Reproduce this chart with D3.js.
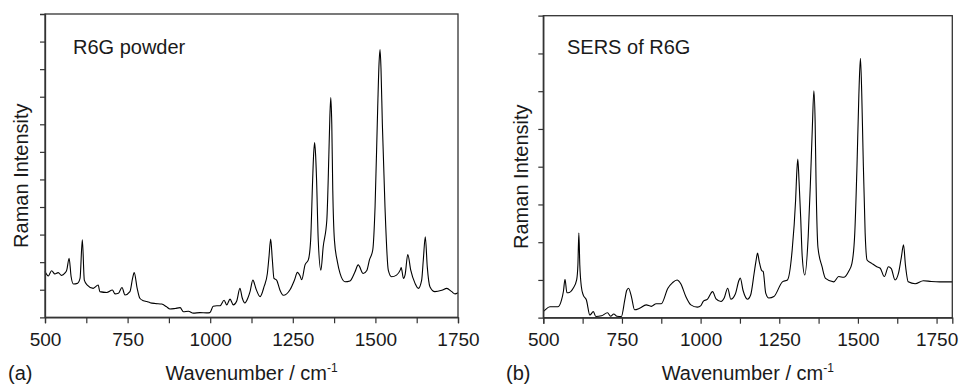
<!DOCTYPE html>
<html>
<head>
<meta charset="utf-8">
<script src="https://cdn.jsdelivr.net/npm/d3@7"></script>
<style>
  body { margin: 0; background: #fff; }
  svg { display: block; font-family: "Liberation Sans", Arial, sans-serif; }
</style>
</head>
<body>
<script>
// Data (intensity in y-tick units)
const powderWavenumber = [500, 510, 520, 530, 540, 550, 560, 566, 573, 579, 586, 598, 606, 613, 619, 628, 646, 661, 666, 687, 704, 712, 722, 733, 742, 757, 765, 770, 779, 787, 798, 808, 818, 833, 853, 868, 878, 894, 909, 919, 934, 949, 969, 989, 999, 1009, 1020, 1030, 1042, 1050, 1060, 1070, 1080, 1090, 1097, 1105, 1114, 1121, 1129, 1139, 1151, 1163, 1173, 1178, 1183, 1188, 1193, 1201, 1211, 1221, 1242, 1255, 1264, 1272, 1277, 1287, 1297, 1304, 1310, 1313, 1316, 1319, 1322, 1327, 1335, 1342, 1353, 1359, 1362, 1365, 1368, 1371, 1376, 1385, 1393, 1408, 1423, 1438, 1448, 1463, 1474, 1482, 1492, 1499, 1507, 1511, 1514, 1517, 1521, 1529, 1539, 1549, 1564, 1575, 1578, 1585, 1590, 1598, 1607, 1620, 1630, 1640, 1645, 1651, 1657, 1665, 1680, 1701, 1716, 1731, 1741, 1750];
const powderIntensity = [1.66, 1.5, 1.69, 1.57, 1.62, 1.52, 1.6, 1.72, 2.14, 1.48, 1.21, 1.23, 1.41, 2.81, 1.35, 1.17, 1.05, 1.17, 0.93, 0.9, 0.99, 0.85, 0.87, 1.08, 0.81, 0.93, 1.41, 1.62, 1.05, 0.69, 0.6, 0.57, 0.53, 0.5, 0.48, 0.38, 0.3, 0.32, 0.35, 0.2, 0.22, 0.15, 0.17, 0.16, 0.17, 0.4, 0.42, 0.42, 0.62, 0.45, 0.66, 0.45, 0.58, 1.05, 0.7, 0.52, 0.7, 0.95, 1.35, 1.02, 0.75, 1.11, 1.59, 2.2, 2.84, 2.1, 1.41, 1.35, 0.99, 0.8, 1.01, 1.35, 1.63, 1.5, 1.36, 1.9, 2.08, 2.8, 4.97, 5.9, 6.34, 5.9, 4.97, 2.8, 1.71, 2.56, 3.53, 5.82, 7.2, 7.97, 7.0, 4.61, 2.8, 2.01, 1.59, 1.29, 1.32, 1.64, 1.9, 1.59, 1.7, 2.08, 2.44, 4.01, 7.63, 9.2, 9.71, 9.0, 7.03, 4.01, 1.71, 1.47, 1.53, 1.71, 1.8, 1.41, 1.55, 2.28, 1.71, 1.23, 1.05, 1.35, 2.08, 2.92, 1.83, 1.11, 0.93, 0.98, 1.05, 0.93, 0.85, 0.89];

const sersWavenumber = [500, 505, 521, 547, 558, 564, 569, 575, 579, 595, 606, 610, 613, 616, 621, 627, 637, 648, 659, 667, 685, 704, 714, 724, 734, 748, 759, 765, 771, 780, 790, 806, 827, 843, 859, 875, 896, 911, 925, 937, 953, 969, 990, 1001, 1009, 1022, 1038, 1049, 1065, 1075, 1086, 1096, 1110, 1122, 1126, 1135, 1149, 1159, 1170, 1176, 1181, 1186, 1194, 1199, 1207, 1217, 1233, 1260, 1276, 1291, 1302, 1306, 1309, 1313, 1318, 1323, 1331, 1342, 1349, 1355, 1360, 1364, 1367, 1373, 1386, 1397, 1423, 1439, 1455, 1470, 1481, 1490, 1497, 1503, 1508, 1512, 1516, 1523, 1529, 1544, 1560, 1571, 1584, 1597, 1606, 1618, 1629, 1638, 1645, 1651, 1660, 1682, 1708, 1733, 1760, 1800];
const sersIntensity = [0.16, 0.2, 0.29, 0.29, 0.47, 0.7, 1.02, 0.66, 0.66, 0.78, 1.0, 1.4, 2.24, 1.4, 0.82, 0.6, 0.47, 0.07, 0.16, 0.03, 0.05, 0.13, 0.04, 0.1, 0.04, 0.03, 0.47, 0.72, 0.78, 0.56, 0.21, 0.25, 0.34, 0.3, 0.37, 0.37, 0.78, 0.93, 1.0, 0.9, 0.56, 0.34, 0.28, 0.32, 0.44, 0.49, 0.69, 0.5, 0.43, 0.52, 0.78, 0.49, 0.62, 0.99, 1.05, 0.72, 0.49, 0.6, 1.17, 1.5, 1.71, 1.5, 1.25, 1.22, 0.65, 0.52, 0.56, 0.95, 1.0, 1.79, 3.12, 3.9, 4.2, 3.6, 2.67, 1.62, 1.13, 2.15, 3.57, 5.0, 6.01, 5.2, 3.57, 1.86, 1.35, 1.04, 0.95, 1.09, 1.07, 1.22, 1.44, 2.24, 4.0, 5.9, 6.87, 6.0, 4.5, 2.24, 1.53, 1.44, 1.35, 1.31, 1.09, 1.35, 1.3, 1.0, 1.18, 1.6, 1.93, 1.4, 0.95, 0.9, 0.98, 0.96, 0.95, 0.95];

const xTickLabels = [500, 750, 1000, 1250, 1500, 1750];
const xMinorTicks = [625, 875, 1125, 1375, 1625];

const panels = [
  { letter: '(a)', note: 'R6G powder', wn: powderWavenumber, inten: powderIntensity,
    xDomain: [500, 1750], yMax: 11, left: 45, right: 458, top: 14, bottom: 317.3, noteX: 73, axisLabelX: 28, letterX: 8 },
  { letter: '(b)', note: 'SERS of R6G', wn: sersWavenumber, inten: sersIntensity,
    xDomain: [500, 1800], yMax: 8, left: 543.3, right: 952.3, top: 15.7, bottom: 317.7, noteX: 567, axisLabelX: 528, letterX: 506 }
];

const width = 961;
const height = 385;
const ink = '#1a1a1a';

const svg = d3.select('body')
  .append('svg')
  .attr('width', width)
  .attr('height', height);

panels.forEach(p => {
  const x = d3.scaleLinear().domain(p.xDomain).range([p.left, p.right]);
  const y = d3.scaleLinear().domain([0, p.yMax]).range([p.bottom, p.top]);
  const g = svg.append('g');

  // Spectrum
  const line = d3.line()
    .x(i => x(p.wn[i]))
    .y(i => y(p.inten[i]))
    .curve(d3.curveMonotoneX);
  g.append('path')
    .attr('d', line(d3.range(p.wn.length)))
    .attr('fill', 'none')
    .attr('stroke', '#000')
    .attr('stroke-width', 1.1);

  // Frame
  g.append('rect')
    .attr('x', p.left).attr('y', p.top)
    .attr('width', p.right - p.left).attr('height', p.bottom - p.top)
    .attr('fill', 'none').attr('stroke', '#333').attr('stroke-width', 1.3);

  // Bottom axis
  const xAxis = d3.axisBottom(x)
    .tickValues(xTickLabels.concat(xMinorTicks).filter(v => v <= p.xDomain[1]))
    .tickFormat(v => xTickLabels.includes(v) ? v : '')
    .tickSize(6)
    .tickPadding(9);
  const gx = g.append('g')
    .attr('transform', `translate(0,${p.bottom})`)
    .call(xAxis);
  gx.select('.domain').attr('stroke', '#333').attr('stroke-width', 1.3);
  gx.selectAll('.tick line').attr('stroke', '#333').attr('stroke-width', 1.2);
  gx.selectAll('.tick text')
    .attr('fill', ink)
    .style('font-size', '19px')
    .style('font-family', '"Liberation Sans", Arial, sans-serif');

  // Left axis (no labels)
  const yAxis = d3.axisLeft(y)
    .tickValues(d3.range(1, p.yMax))
    .tickFormat('')
    .tickSize(5);
  const gy = g.append('g')
    .attr('transform', `translate(${p.left},0)`)
    .call(yAxis);
  gy.select('.domain').attr('stroke', '#333').attr('stroke-width', 1.3);
  gy.selectAll('.tick line').attr('stroke', '#333').attr('stroke-width', 1.2);

  // Texts
  g.append('text')
    .attr('x', p.noteX).attr('y', 54)
    .attr('fill', ink)
    .style('font-size', '20px')
    .text(p.note);

  g.append('text')
    .attr('transform', `translate(${p.axisLabelX},${(p.top + p.bottom) / 2 + 10}) rotate(-90)`)
    .attr('text-anchor', 'middle')
    .attr('fill', ink)
    .style('font-size', '20px')
    .text('Raman Intensity');

  const xl = g.append('text')
    .attr('x', (p.left + p.right) / 2)
    .attr('y', 380)
    .attr('text-anchor', 'middle')
    .attr('fill', ink)
    .style('font-size', '20px');
  xl.append('tspan').text('Wavenumber / cm');
  xl.append('tspan').attr('dy', -8).style('font-size', '12px').text('-1');

  g.append('text')
    .attr('x', p.letterX).attr('y', 380)
    .attr('fill', ink)
    .style('font-size', '20px')
    .text(p.letter);
});
</script>
</body>
</html>
